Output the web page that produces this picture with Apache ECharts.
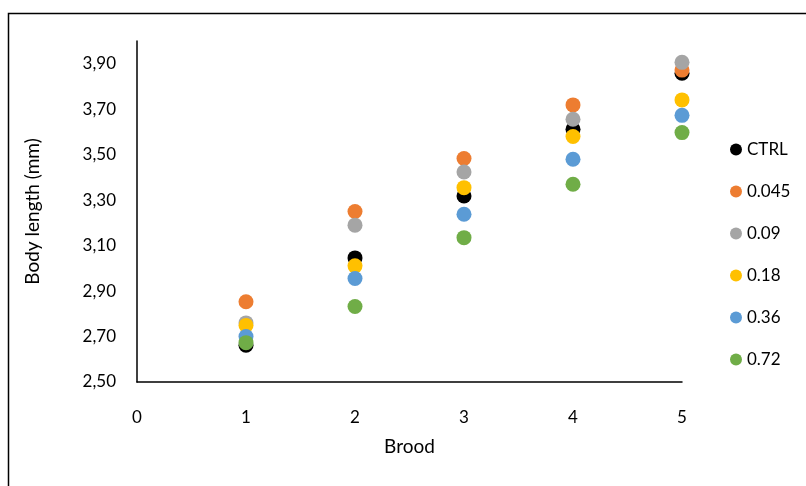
<!DOCTYPE html>
<html>
<head>
<meta charset="utf-8">
<script src="https://cdn.jsdelivr.net/npm/echarts@6/dist/echarts.min.js"></script>
<style>
  html, body { margin: 0; padding: 0; background: #fff; }
  #chart { width: 806px; height: 486px; }
</style>
</head>
<body>
<div id="chart"></div>
<script>
// Brood number on the x axis
const broods = [1, 2, 3, 4, 5];

// Mean body length (mm) per treatment group
const seriesNames = ['CTRL', '0.045', '0.09', '0.18', '0.36', '0.72'];
const ctrl   = [2.662, 3.046, 3.318, 3.612, 3.858];
const c0045  = [2.853, 3.250, 3.483, 3.719, 3.872];
const c009   = [2.760, 3.190, 3.424, 3.656, 3.906];
const c018   = [2.749, 3.011, 3.355, 3.580, 3.741];
const c036   = [2.700, 2.955, 3.238, 3.480, 3.673];
const c072   = [2.673, 2.832, 3.135, 3.370, 3.597];
const seriesValues = [ctrl, c0045, c009, c018, c036, c072];

const colors = ['#000000', '#ED7D31', '#A5A5A5', '#FFC000', '#5B9BD5', '#70AD47'];
const fontFamily = 'Lato, "Open Sans", sans-serif';

const chart = echarts.init(document.getElementById('chart'), null, { renderer: 'canvas' });

chart.setOption({
  animation: false,
  color: colors,
  textStyle: { fontFamily: fontFamily },
  grid: { left: 137, right: 124, top: 41, bottom: 104 },
  graphic: [{
    type: 'rect',
    shape: { x: 8.5, y: 13.5, width: 900, height: 600 },
    style: { fill: 'none', stroke: '#000', lineWidth: 1.5 },
    silent: true
  }],
  legend: {
    orient: 'vertical',
    left: 725,
    top: 136,
    itemGap: 25,
    itemWidth: 12,
    itemHeight: 16,
    icon: 'circle',
    textStyle: { fontSize: 17, color: '#000', fontFamily: fontFamily, padding: [0, 0, 0, 0] },
    data: seriesNames
  },
  xAxis: {
    type: 'value',
    min: 0,
    max: 5,
    interval: 1,
    name: 'Brood',
    nameLocation: 'middle',
    nameGap: 55,
    nameTextStyle: { fontSize: 19, color: '#000' },
    axisLine: { lineStyle: { color: '#000', width: 1.5 } },
    axisTick: { show: false },
    splitLine: { show: false },
    axisLabel: { fontSize: 17, color: '#000', margin: 27 }
  },
  yAxis: {
    type: 'value',
    min: 2.5,
    max: 4.0,
    interval: 0.1,
    name: 'Body length (mm)',
    nameLocation: 'middle',
    nameRotate: 90,
    nameGap: 95,
    nameTextStyle: { fontSize: 19, color: '#000' },
    axisLine: { show: true, lineStyle: { color: '#000', width: 1.5 } },
    axisTick: { show: false },
    splitLine: { show: false },
    axisLabel: {
      fontSize: 17,
      color: '#000',
      margin: 21,
      showMaxLabel: false,
      // label every second step: 2,50 2,70 ... 3,90
      formatter: v => (Math.round((v - 2.5) * 10) % 2 === 0 && v < 3.95)
        ? v.toFixed(2).replace('.', ',') : ''
    }
  },
  series: seriesNames.map((name, i) => ({
    name: name,
    type: 'scatter',
    symbol: 'circle',
    symbolSize: 15,
    z: 2 + i,
    itemStyle: { color: colors[i], opacity: 1 },
    data: broods.map((b, j) => [b, seriesValues[i][j]])
  }))
});
</script>
</body>
</html>
